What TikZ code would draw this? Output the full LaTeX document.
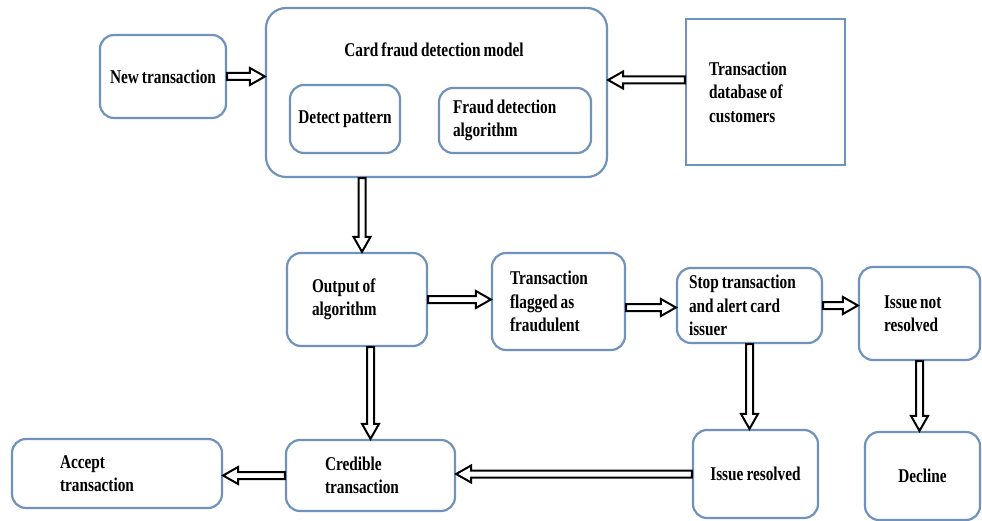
\documentclass[tikz,border=0pt]{standalone}
\usepackage{fontspec}
\setmainfont{Liberation Serif}[FakeStretch=0.785,WordSpace=0.8]
\usetikzlibrary{calc}
\definecolor{boxblue}{RGB}{112,146,190}
\tikzset{
  rbox/.style={draw=boxblue, line width=2.2pt, rounded corners=14pt, inner ysep=0pt, fill=white},
  sqbox/.style={draw=boxblue, line width=2.2pt, inner ysep=0pt, fill=white},
  ltxt/.style={align=left, execute at begin node={\spaceskip=0pt\xspaceskip=0pt\relax}},
  blk/.style={draw=black, line width=2pt, fill=white, line join=miter,
    to path={let \p1=(\tikztostart), \p2=(\tikztotarget),
      \n1={atan2(\y2-\y1,\x2-\x1)}, \n2={veclen(\x2-\x1,\y2-\y1)} in
      ($(\p1)+(\n1+90:3.5pt)$)
      -- ($(\p1)+(\n1:{(\n2-15)*1pt})+(\n1+90:3.5pt)$)
      -- ($(\p1)+(\n1:{(\n2-15)*1pt})+(\n1+90:8.5pt)$)
      -- (\p2)
      -- ($(\p1)+(\n1:{(\n2-15)*1pt})+(\n1-90:8.5pt)$)
      -- ($(\p1)+(\n1:{(\n2-15)*1pt})+(\n1-90:3.5pt)$)
      -- ($(\p1)+(\n1-90:3.5pt)$) -- cycle}}
}
\begin{document}
\begin{tikzpicture}[x=1pt,y=-1pt,font=\bfseries\fontsize{19.5}{23.5}\selectfont]
\useasboundingbox (0,0) rectangle (982,521);
% top row
\node[rbox, minimum width=126pt, minimum height=83pt] (new) at (163,76.5) {New transaction};
\node[rbox, rounded corners=20pt, minimum width=341pt, minimum height=169pt] (card) at (436.5,92.5) {};
\node (title) at (434,50) {Card fraud detection model};
\node[rbox, minimum width=110pt, minimum height=68pt, inner xsep=2pt] (detect) at (345,119) {Detect pattern};
\node[rbox, ltxt, minimum width=152pt, minimum height=65pt, inner xsep=14pt, text width=124pt] (alg) at (515,120.5) {Fraud detection\\algorithm};
\node[sqbox, ltxt, minimum width=159pt, minimum height=146pt, inner xsep=23pt, text width=113pt] (db) at (765.5,92) {Transaction\\database of\\customers};
% middle row
\node[rbox, ltxt, minimum width=140pt, minimum height=93pt, inner xsep=25pt, text width=90pt] (out) at (357,299.5) {Output of\\algorithm};
\node[rbox, ltxt, minimum width=133pt, minimum height=97pt, inner xsep=18pt, text width=97pt] (flag) at (558.5,301.5) {Transaction\\flagged as\\fraudulent};
\node[rbox, ltxt, minimum width=145pt, minimum height=75pt, inner xsep=12pt, text width=121pt] (stop) at (749.5,305.5) {Stop transaction\\and alert card\\issuer};
\node[rbox, ltxt, minimum width=121pt, minimum height=93pt, inner xsep=25pt, text width=71pt] (notres) at (919.5,313.5) {Issue not\\resolved};
% bottom row
\node[rbox, ltxt, minimum width=210pt, minimum height=69pt, inner xsep=48pt, text width=114pt] (accept) at (117,473.5) {Accept\\transaction};
\node[rbox, ltxt, minimum width=169pt, minimum height=71pt, inner xsep=39pt, text width=91pt] (cred) at (370.5,475.5) {Credible\\transaction};
\node[rbox, minimum width=125pt, minimum height=88pt, inner xsep=2pt] (res) at (755.5,474) {Issue resolved};
\node[rbox, minimum width=115pt, minimum height=88pt, inner xsep=2pt] (decl) at (922.5,476) {Decline};
% connectors
\coordinate (dbout) at (db.west |- 0,80);
\coordinate (cardout) at ([xshift=5pt]card.south -| out.north);
\coordinate (flagout) at ([yshift=-6pt]flag.east);
\draw[blk] (new.east) to (card.west |- new.east);
\draw[blk] (dbout) to (card.east |- dbout);
\draw[blk] (cardout) to (out.north -| cardout);
\draw[blk] (out.east) to (flag.west |- out.east);
\draw[blk] (flagout) to (stop.west |- flagout);
\draw[blk] (stop.east) to (notres.west |- stop.east);
\draw[blk] (notres.south) to (decl.north -| notres.south);
\draw[blk] (stop.south) to (res.north -| stop.south);
\draw[blk] (out.south -| cred.north) to (cred.north);
\draw[blk] (res.west) to (cred.east |- res.west);
\draw[blk] (cred.west) to (accept.east |- cred.west);
\end{tikzpicture}
\end{document}
